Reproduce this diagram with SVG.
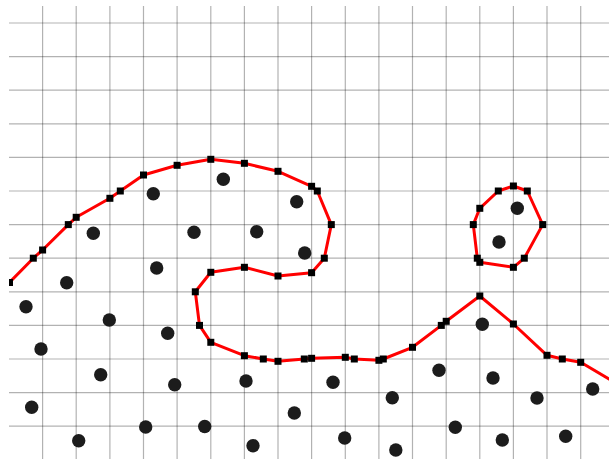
<svg xmlns="http://www.w3.org/2000/svg" xmlns:xlink="http://www.w3.org/1999/xlink" width="609" height="459" viewBox="0 0 609 459">
<style>
.grid line{stroke:#000;stroke-opacity:0.3;stroke-width:1.2}
.contour{fill:none;stroke:#ff0000;stroke-width:3;stroke-linejoin:round}
.pt{fill:#1c1c1c}
.mk{fill:#000}
</style>
<defs>
<clipPath id="plot"><rect x="9" y="6" width="600" height="453"/></clipPath>
<rect id="sq" x="-3.5" y="-3.5" width="7" height="7"/>
<circle id="dot" r="6.7"/>
</defs>
<rect width="609" height="459" fill="#fff"/>
<g id="grid" class="grid">
<line x1="42.6" y1="6" x2="42.6" y2="459"/>
<line x1="76.2" y1="6" x2="76.2" y2="459"/>
<line x1="109.9" y1="6" x2="109.9" y2="459"/>
<line x1="143.5" y1="6" x2="143.5" y2="459"/>
<line x1="177.1" y1="6" x2="177.1" y2="459"/>
<line x1="210.8" y1="6" x2="210.8" y2="459"/>
<line x1="244.4" y1="6" x2="244.4" y2="459"/>
<line x1="278" y1="6" x2="278" y2="459"/>
<line x1="311.6" y1="6" x2="311.6" y2="459"/>
<line x1="345.3" y1="6" x2="345.3" y2="459"/>
<line x1="378.9" y1="6" x2="378.9" y2="459"/>
<line x1="412.5" y1="6" x2="412.5" y2="459"/>
<line x1="446.2" y1="6" x2="446.2" y2="459"/>
<line x1="479.8" y1="6" x2="479.8" y2="459"/>
<line x1="513.4" y1="6" x2="513.4" y2="459"/>
<line x1="547" y1="6" x2="547" y2="459"/>
<line x1="580.7" y1="6" x2="580.7" y2="459"/>
<line x1="9" y1="23" x2="609" y2="23"/>
<line x1="9" y1="56.6" x2="609" y2="56.6"/>
<line x1="9" y1="90.2" x2="609" y2="90.2"/>
<line x1="9" y1="123.8" x2="609" y2="123.8"/>
<line x1="9" y1="157.4" x2="609" y2="157.4"/>
<line x1="9" y1="191" x2="609" y2="191"/>
<line x1="9" y1="224.6" x2="609" y2="224.6"/>
<line x1="9" y1="258.2" x2="609" y2="258.2"/>
<line x1="9" y1="291.8" x2="609" y2="291.8"/>
<line x1="9" y1="325.4" x2="609" y2="325.4"/>
<line x1="9" y1="359" x2="609" y2="359"/>
<line x1="9" y1="392.6" x2="609" y2="392.6"/>
<line x1="9" y1="426.2" x2="609" y2="426.2"/>
</g>
<g id="points" class="pt">
<use xlink:href="#dot" x="26" y="306.7"/>
<use xlink:href="#dot" x="66.7" y="282.7"/>
<use xlink:href="#dot" x="93.3" y="233.3"/>
<use xlink:href="#dot" x="153.3" y="193.7"/>
<use xlink:href="#dot" x="156.7" y="268"/>
<use xlink:href="#dot" x="194" y="232.3"/>
<use xlink:href="#dot" x="223.3" y="179.3"/>
<use xlink:href="#dot" x="256.7" y="231.7"/>
<use xlink:href="#dot" x="296.7" y="201.7"/>
<use xlink:href="#dot" x="304.7" y="253"/>
<use xlink:href="#dot" x="109.3" y="320"/>
<use xlink:href="#dot" x="167.7" y="333.3"/>
<use xlink:href="#dot" x="41" y="349"/>
<use xlink:href="#dot" x="100.7" y="374.7"/>
<use xlink:href="#dot" x="174.7" y="384.7"/>
<use xlink:href="#dot" x="31.7" y="407.3"/>
<use xlink:href="#dot" x="145.7" y="427"/>
<use xlink:href="#dot" x="78.7" y="440.7"/>
<use xlink:href="#dot" x="204.7" y="426.5"/>
<use xlink:href="#dot" x="246" y="381"/>
<use xlink:href="#dot" x="333" y="382.3"/>
<use xlink:href="#dot" x="392.3" y="397.7"/>
<use xlink:href="#dot" x="294.3" y="413"/>
<use xlink:href="#dot" x="253" y="445.7"/>
<use xlink:href="#dot" x="344.7" y="438"/>
<use xlink:href="#dot" x="395.8" y="450"/>
<use xlink:href="#dot" x="517.3" y="208.3"/>
<use xlink:href="#dot" x="499" y="242"/>
<use xlink:href="#dot" x="482.3" y="324.3"/>
<use xlink:href="#dot" x="439" y="370.3"/>
<use xlink:href="#dot" x="493" y="378"/>
<use xlink:href="#dot" x="537" y="398"/>
<use xlink:href="#dot" x="592.7" y="389"/>
<use xlink:href="#dot" x="455.3" y="427.3"/>
<use xlink:href="#dot" x="502.3" y="440"/>
<use xlink:href="#dot" x="565.7" y="436.3"/>
</g>
<g id="connectors" clip-path="url(#plot)">
<polyline id="contour-main" class="contour" points="0,291 9.5,282.5 33.3,258.2 42.6,250 68.3,224.6 76.2,217.3 109.9,198.3 120.3,191 143.5,175 177.1,165.3 210.8,159.3 244.4,163.3 278,171.3 311.6,186.3 317.3,191 331.3,224.6 324.3,258.2 311.6,272.7 278,276 244.4,267.3 210.8,272.3 195.3,291.8 199.5,325.4 210.8,342.3 244.4,355.7 263.3,359 278,361.3 304.3,359 311.6,358.3 345.3,357.3 354.3,359 378.9,360.3 383.3,359 412.5,347.3 441.3,325.4 446.2,321.3 479.8,296 513.4,324 547,355.3 562.3,359 580.7,362.3 614,382"/>
<polygon id="contour-island" class="contour" points="479.8,208.3 498.3,191 513.4,186 527.3,191 542.7,224.6 524.3,258.2 513.4,267.3 479.8,262.3 477.3,258.2 473.3,224.6"/>
</g>
<g id="markers" class="mk" clip-path="url(#plot)">
<use xlink:href="#sq" x="9.5" y="282.5"/>
<use xlink:href="#sq" x="33.3" y="258.2"/>
<use xlink:href="#sq" x="42.6" y="250"/>
<use xlink:href="#sq" x="68.3" y="224.6"/>
<use xlink:href="#sq" x="76.2" y="217.3"/>
<use xlink:href="#sq" x="109.9" y="198.3"/>
<use xlink:href="#sq" x="120.3" y="191"/>
<use xlink:href="#sq" x="143.5" y="175"/>
<use xlink:href="#sq" x="177.1" y="165.3"/>
<use xlink:href="#sq" x="210.8" y="159.3"/>
<use xlink:href="#sq" x="244.4" y="163.3"/>
<use xlink:href="#sq" x="278" y="171.3"/>
<use xlink:href="#sq" x="311.6" y="186.3"/>
<use xlink:href="#sq" x="317.3" y="191"/>
<use xlink:href="#sq" x="331.3" y="224.6"/>
<use xlink:href="#sq" x="324.3" y="258.2"/>
<use xlink:href="#sq" x="311.6" y="272.7"/>
<use xlink:href="#sq" x="278" y="276"/>
<use xlink:href="#sq" x="244.4" y="267.3"/>
<use xlink:href="#sq" x="210.8" y="272.3"/>
<use xlink:href="#sq" x="195.3" y="291.8"/>
<use xlink:href="#sq" x="199.5" y="325.4"/>
<use xlink:href="#sq" x="210.8" y="342.3"/>
<use xlink:href="#sq" x="244.4" y="355.7"/>
<use xlink:href="#sq" x="263.3" y="359"/>
<use xlink:href="#sq" x="278" y="361.3"/>
<use xlink:href="#sq" x="304.3" y="359"/>
<use xlink:href="#sq" x="311.6" y="358.3"/>
<use xlink:href="#sq" x="345.3" y="357.3"/>
<use xlink:href="#sq" x="354.3" y="359"/>
<use xlink:href="#sq" x="378.9" y="360.3"/>
<use xlink:href="#sq" x="383.3" y="359"/>
<use xlink:href="#sq" x="412.5" y="347.3"/>
<use xlink:href="#sq" x="441.3" y="325.4"/>
<use xlink:href="#sq" x="446.2" y="321.3"/>
<use xlink:href="#sq" x="479.8" y="296"/>
<use xlink:href="#sq" x="513.4" y="324"/>
<use xlink:href="#sq" x="547" y="355.3"/>
<use xlink:href="#sq" x="562.3" y="359"/>
<use xlink:href="#sq" x="580.7" y="362.3"/>
<use xlink:href="#sq" x="479.8" y="208.3"/>
<use xlink:href="#sq" x="498.3" y="191"/>
<use xlink:href="#sq" x="513.4" y="186"/>
<use xlink:href="#sq" x="527.3" y="191"/>
<use xlink:href="#sq" x="542.7" y="224.6"/>
<use xlink:href="#sq" x="524.3" y="258.2"/>
<use xlink:href="#sq" x="513.4" y="267.3"/>
<use xlink:href="#sq" x="479.8" y="262.3"/>
<use xlink:href="#sq" x="477.3" y="258.2"/>
<use xlink:href="#sq" x="473.3" y="224.6"/>
</g>
</svg>
